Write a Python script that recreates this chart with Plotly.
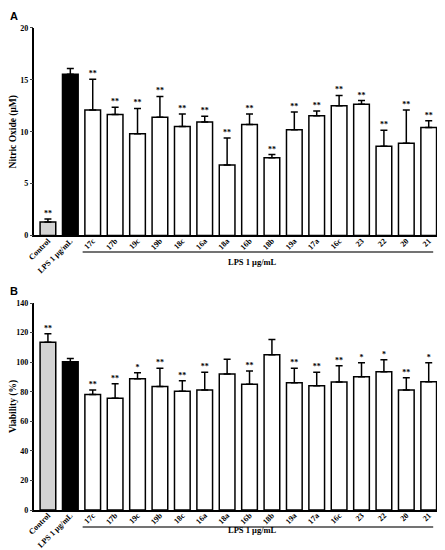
import plotly.graph_objects as go
from plotly.subplots import make_subplots

# categories
compounds = ['Control', 'LPS 1 μg/mL', '17c', '17b', '19c', '19b', '18c', '16a', '18a',
             '16b', '18b', '19a', '17a', '16c', '23', '22', '20', '21']

# Panel A: nitric oxide (uM), mean and upper error
no_mean = [1.3, 15.55, 12.1, 11.65, 9.8, 11.4, 10.5, 10.95, 6.8, 10.7, 7.5, 10.2, 11.55, 12.5, 12.65, 8.6, 8.9, 10.4]
no_err = [0.3, 0.55, 2.95, 0.7, 2.45, 2.0, 1.2, 0.55, 2.6, 1.0, 0.3, 1.7, 0.45, 1.0, 0.35, 1.55, 3.2, 0.65]
no_stars = ['**', '', '**', '**', '**', '**', '**', '**', '**', '**', '**', '**', '**', '**', '**', '**', '**', '**']

# Panel B: viability (%)
via_mean = [113.5, 100.3, 78.1, 75.6, 88.8, 83.5, 80.4, 81.1, 92.0, 85.1, 105.0, 86.0, 84.1, 86.6, 90.1, 93.5, 81.1, 86.8]
via_err = [5.7, 2.2, 3.1, 9.8, 4.1, 12.4, 7.1, 12.0, 9.9, 8.9, 10.4, 9.8, 9.0, 11.0, 9.5, 8.2, 8.4, 12.8]
via_stars = ['**', '', '**', '**', '*', '**', '**', '**', '', '**', '', '**', '**', '**', '*', '*', '**', '*']

fills = ['#d3d3d3', 'black'] + ['white'] * (len(compounds) - 2)

FONT = 'Liberation Serif'
XRANGE = [-0.6, 17.37]

fig = make_subplots(rows=2, cols=1)

panels = [(no_mean, no_err, no_stars, 1, 0.1), (via_mean, via_err, via_stars, 2, 0.7)]
for mean, err, stars, row, pad in panels:
    fig.add_trace(go.Bar(
        x=compounds, y=mean, width=0.7,
        marker=dict(color=fills, line=dict(color='black', width=1.5)),
        error_y=dict(type='data', array=err, arrayminus=[0] * len(err), symmetric=False,
                     color='black', thickness=1.5, width=3.5),
        showlegend=False,
    ), row=row, col=1)
    fig.add_trace(go.Scatter(
        x=compounds, y=[m + e + pad for m, e in zip(mean, err)],
        mode='text', text=stars, textposition='top center',
        textfont=dict(family=FONT, size=8, color='black', weight=700),
        showlegend=False, cliponaxis=False,
    ), row=row, col=1)

xfont = dict(family=FONT, size=8, color='black', weight=700)
yfont = dict(family=FONT, size=8, color='black', weight=700)
for row, dom in [(1, [0.5803, 0.9631]), (2, [0.0738, 0.4557])]:
    fig.update_xaxes(type='category', domain=[0.0606, 0.9817], range=XRANGE, autorange=False,
                     showline=True, linecolor='black', linewidth=1.5, ticks='', tickangle=-45,
                     ticklabelstandoff=-4,
                     tickfont=xfont, showgrid=False, automargin=False, row=row, col=1)
    fig.update_yaxes(domain=dom, showline=True, linecolor='black', linewidth=1.5,
                     ticks='outside', ticklen=3, tickwidth=1.2, tickfont=yfont,
                     showgrid=False, zeroline=False, automargin=False, row=row, col=1)

fig.update_yaxes(range=[0, 20], dtick=5, row=1, col=1,
                 title=dict(text='Nitric Oxide (μM)', font=dict(family=FONT, size=9.5, color='black', weight=700), standoff=4))
fig.update_yaxes(range=[0, 140], dtick=20, row=2, col=1,
                 title=dict(text='Viability (%)', font=dict(family=FONT, size=9.5, color='black', weight=700), standoff=4))

# group bracket under treated compounds
for xref, ly, ty in [('x', 0.5498, 0.5314), ('x2', 0.0424, 0.024)]:
    fig.add_shape(type='line', xref=xref, yref='paper', x0=1.55, x1=17.2, y0=ly, y1=ly,
                  line=dict(color='#444444', width=1.5))
    fig.add_annotation(xref='paper', yref='paper', x=0.5606, y=ty, text='LPS 1 μg/mL',
                       showarrow=False, font=dict(family=FONT, size=8.5, color='black', weight=700))

for letter, y in [('A', 1.0), ('B', 0.4926)]:
    fig.add_annotation(xref='paper', yref='paper', x=0.0, y=y, text=letter, showarrow=False,
                       xanchor='left', yanchor='top',
                       font=dict(family='Liberation Sans', size=11, color='black', weight=700))

fig.update_layout(width=437, height=542, margin=dict(l=0, r=0, t=0, b=0),
                  plot_bgcolor='white', paper_bgcolor='white')

fig.write_html('out.html')
